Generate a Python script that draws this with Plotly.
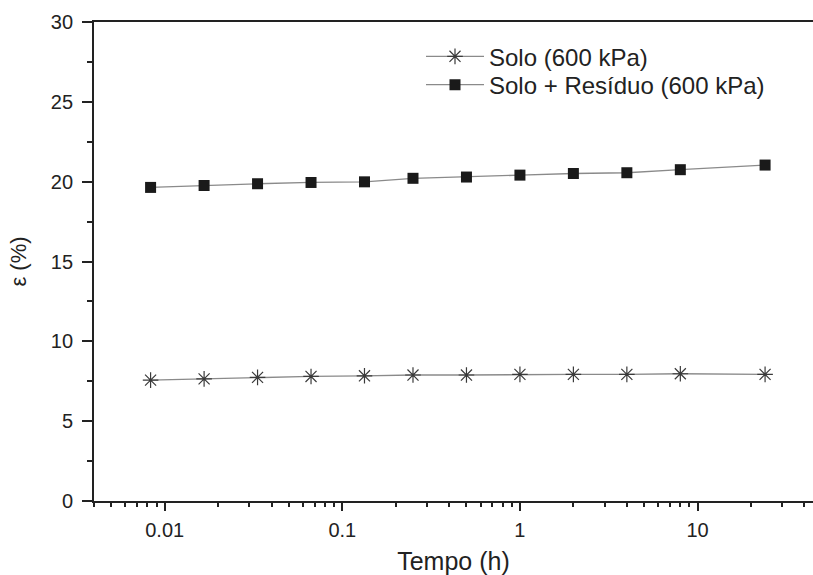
import plotly.graph_objects as go
import numpy as np

tempo_h = [0.00833, 0.01667, 0.03333, 0.06667, 0.1333, 0.25, 0.5, 1, 2, 4, 8, 24]
solo = [7.57, 7.65, 7.74, 7.80, 7.84, 7.89, 7.89, 7.93, 7.93, 7.93, 7.97, 7.93]
solo_residuo = [19.64, 19.76, 19.87, 19.95, 19.99, 20.21, 20.29, 20.41, 20.51, 20.56, 20.75, 21.04]

x_tickvals = [0.01, 0.1, 1, 10]
x_ticktext = ["0.01", "0.1", "1", "10"]
y_tickvals = [0, 5, 10, 15, 20, 25, 30]

FONT = "Liberation Sans, Arial, sans-serif"
INK = "#222222"

fig = go.Figure()
fig.add_trace(go.Scatter(
    x=tempo_h, y=solo, mode="lines+markers", name="Solo (600 kPa)",
    line=dict(color="#8a8a8a", width=1.3),
    marker=dict(symbol="asterisk-open", size=13, color="#3a3a3a",
                line=dict(color="#3a3a3a", width=1.2)),
    legend="legend",
))
fig.add_trace(go.Scatter(
    x=tempo_h, y=solo_residuo, mode="lines+markers", name="Solo + Resíduo (600 kPa)",
    line=dict(color="#8a8a8a", width=1.3),
    marker=dict(symbol="square", size=11, color="#1a1a1a"),
    legend="legend2",
))

leg_common = dict(xanchor="left", yanchor="middle", bgcolor="rgba(0,0,0,0)",
                  font=dict(size=24, family=FONT, color=INK), itemwidth=58)

fig.update_layout(
    width=813, height=575,
    margin=dict(l=94, r=0, t=22, b=74),
    paper_bgcolor="white", plot_bgcolor="white",
    font=dict(family=FONT, color=INK, size=20),
    showlegend=True,
    legend=dict(x=0.4548, y=0.9275, **leg_common),
    legend2=dict(x=0.4548, y=0.8684, **leg_common),
)
fig.update_xaxes(
    type="log", range=[np.log10(0.004), 1.650],
    tickvals=x_tickvals, ticktext=x_ticktext,
    ticks="outside", ticklen=8, tickwidth=1.5, tickcolor=INK,
    minor=dict(ticks="outside", ticklen=4, tickwidth=1.5, tickcolor=INK,
               showgrid=False, dtick="D1"),
    showline=True, linecolor=INK, linewidth=1.8, mirror=True,
    showgrid=False, zeroline=False,
    tickfont=dict(size=20, family=FONT, color=INK),
    ticklabelstandoff=2,
    title=dict(text="Tempo (h)", font=dict(size=25, family=FONT, color=INK), standoff=14),
)
fig.update_yaxes(
    range=[0, 30], tickvals=y_tickvals,
    ticks="outside", ticklen=10, tickwidth=1.5, tickcolor=INK,
    minor=dict(ticks="outside", ticklen=5, tickwidth=1.5, tickcolor=INK,
               dtick=2.5, showgrid=False),
    showline=True, linecolor=INK, linewidth=1.8,
    showgrid=False, zeroline=False,
    tickfont=dict(size=20, family=FONT, color=INK),
    ticklabelstandoff=5,
    title=dict(text="ε (%)", font=dict(size=22, family=FONT, color=INK), standoff=18),
)

fig.write_html("out.html")
